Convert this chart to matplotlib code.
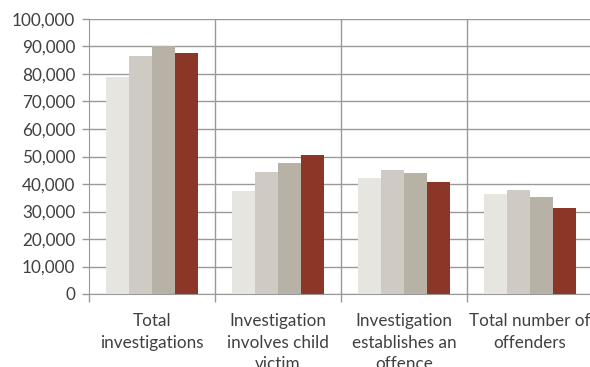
import numpy as np
import matplotlib
matplotlib.use("Agg")
import matplotlib.pyplot as plt
import matplotlib.ticker as mtick

categories = ["Total\ninvestigations", "Investigation\ninvolves child\nvictim",
              "Investigation\nestablishes an\noffence", "Total number of\noffenders"]
series_1 = [79000, 37500, 42200, 36400]
series_2 = [86500, 44400, 45100, 37700]
series_3 = [90000, 47600, 44000, 35200]
series_4 = [87500, 50500, 40900, 31200]
colors = ["#E6E5E0", "#CFCBC4", "#B8B2A6", "#8B3626"]

plt.rcParams['font.family'] = ['Lato', 'DejaVu Sans']

fig = plt.figure(figsize=(5.9, 3.67), dpi=100)
ax = fig.add_axes([89 / 590, 1 - 294 / 367, 504 / 590, 275 / 367])

x = np.arange(len(categories))
width = 0.183
for i, vals in enumerate([series_1, series_2, series_3, series_4]):
    ax.bar(x + (i - 1.5) * width, vals, width, color=colors[i], zorder=3)

ax.set_xlim(-0.5, len(categories) - 0.5)
ax.set_ylim(0, 100000)
ax.yaxis.set_major_locator(mtick.MultipleLocator(10000))
ax.yaxis.set_major_formatter(mtick.StrMethodFormatter('{x:,.0f}'))
ax.grid(True, axis='y', color='#999999', linewidth=1, zorder=0)

# category separators
ax.set_xticks(np.arange(len(categories) + 1) - 0.5, minor=False)
ax.set_xticklabels([])
ax.tick_params(axis='x', length=6, color='#999999', width=1)
for b in np.arange(1, len(categories)) - 0.5:
    ax.axvline(b, color='#999999', linewidth=1, zorder=1)
for i, lab in enumerate(categories):
    ax.text(i, -0.07, lab, transform=ax.get_xaxis_transform(), ha='center', va='top',
            fontsize=12.3, color='#404040', linespacing=1.42)

ax.tick_params(axis='y', length=5, color='#999999', width=1, labelsize=12.3,
               labelcolor='#404040', pad=5)
for s in ['top', 'right']:
    ax.spines[s].set_visible(False)
ax.spines['left'].set_color('#999999')
ax.spines['bottom'].set_color('#999999')

fig.savefig('out.png', dpi=100)
